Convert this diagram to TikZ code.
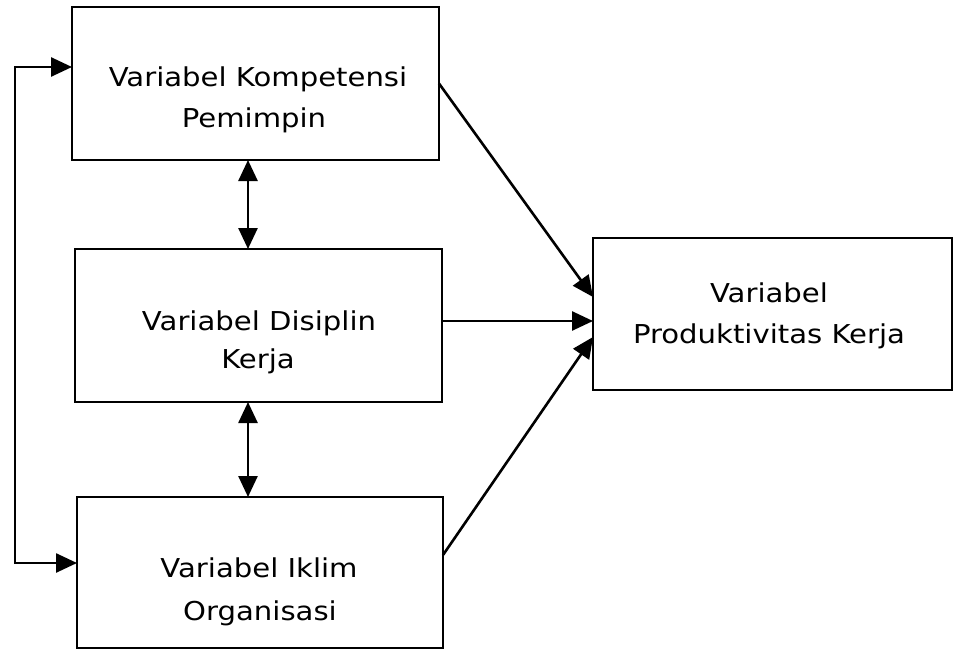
\documentclass[tikz,border=0pt]{standalone}
\usepackage{fontspec}
\setmainfont[FakeStretch=1.12]{DejaVu Sans}
\usetikzlibrary{arrows.meta}
\begin{document}
\begin{tikzpicture}[x=1pt,y=-1pt,
  box/.style={draw,line width=2.6pt,rectangle,inner sep=0pt,outer sep=0pt},
  lbl/.style={anchor=base,inner sep=0pt,font=\fontsize{26}{30}\selectfont},
  arr/.style={line width=2.6pt,-{Triangle[length=21pt,width=19pt]}},
  darr/.style={line width=2.6pt,{Triangle[length=21pt,width=19pt]}-{Triangle[length=21pt,width=19pt]}}]
\useasboundingbox (0,0) rectangle (956,650);
\node[box,minimum width=367pt,minimum height=153pt] (b1) at (255.5,83.5) {};
\node[box,minimum width=367pt,minimum height=153pt] (b2) at (258.5,325.5) {};
\node[box,minimum width=366pt,minimum height=151pt] (b3) at (260,572.5) {};
\node[box,minimum width=359pt,minimum height=152pt] (b4) at (772.5,314) {};
\node[lbl] (t1a) at (258,87) {Variabel Kompetensi};
\node[lbl] (t1b) at (254,128) {Pemimpin};
\node[lbl] (t2a) at (259,330) {Variabel Disiplin};
\node[lbl] (t2b) at (258,368) {Kerja};
\node[lbl] (t3a) at (259,577) {Variabel Iklim};
\node[lbl] (t3b) at (260,620) {Organisasi};
\node[lbl] (t4a) at (769,302) {Variabel};
\node[lbl] (t4b) at (769,343) {Produktivitas Kerja};
\coordinate (vx) at (248,0);
\coordinate (lx) at (15,0);
\draw[darr] (b1.south -| vx) -- (b2.north -| vx);
\draw[darr] (b2.south -| vx) -- (b3.north -| vx);
\coordinate (p1) at ([yshift=16.5pt]b1.west);
\coordinate (p3) at ([yshift=9.5pt]b3.west);
\draw[darr] (p1) -- (p1 -| lx) -- (p3 -| lx) -- (p3);
\draw[arr] (b1.east) -- ([yshift=17pt]b4.west);
\draw[arr] ([yshift=4.5pt]b2.east) -- ([yshift=-7pt]b4.west);
\draw[arr] ([yshift=17.5pt]b3.east) -- ([yshift=-23pt]b4.west);
\end{tikzpicture}
\end{document}
